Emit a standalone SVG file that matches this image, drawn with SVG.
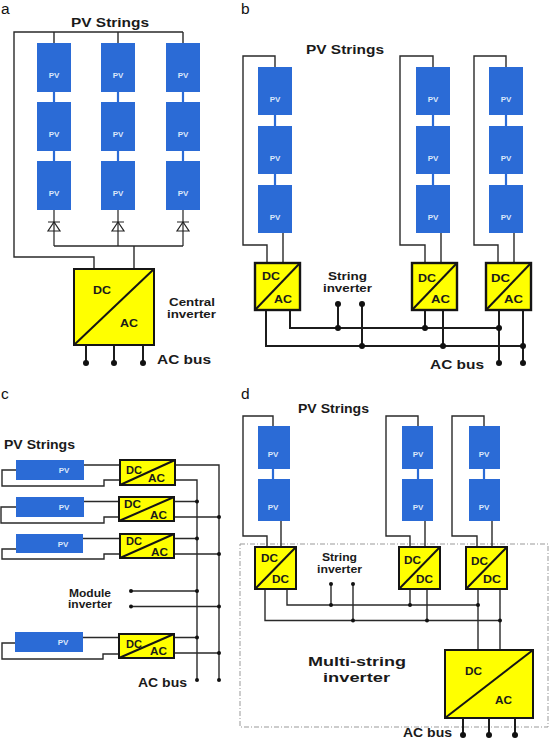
<svg xmlns="http://www.w3.org/2000/svg" width="549" height="740" viewBox="0 0 549 740">
<style>
text{font-family:"Liberation Sans",Arial,sans-serif}
.l{font-size:15.500px;fill:#111}
.t{font-weight:bold;font-size:12px;fill:#1a1a1a}
.s{font-weight:bold;font-size:10.500px;fill:#1a1a1a}
.m{font-weight:bold;font-size:13px;fill:#1a1a1a}
.d{font-weight:bold;font-size:11px;fill:#1a1a1a}
.p{font-weight:bold;font-size:8px;fill:#dce8fa;text-anchor:middle}
.pv{fill:#2b6bd6}
.inv{fill:#ffff00;stroke:#151515;stroke-width:2}
.inv2{fill:#ffff00;stroke:#151515;stroke-width:2.4}
.diag{stroke:#151515;stroke-width:2;fill:none}
.w{fill:none;stroke:#2a2a2a;stroke-width:1.4}
.h{fill:none;stroke:#1c1c1c;stroke-width:2}
.b{fill:none;stroke:#2b6bd6;stroke-width:2.2}
.e{fill:none;stroke:#222;stroke-width:1.2}
.box{fill:none;stroke:#999;stroke-width:1;stroke-dasharray:5 2 1 2}
</style>
<g id="panel-labels">
<text class="l" x="1" y="14.200">a</text>
<text class="l" x="241" y="14.200">b</text>
<text class="l" x="1" y="399">c</text>
<text class="l" x="241" y="399">d</text>
</g>
<rect class="box" x="240" y="544" width="308" height="183"/>
<g id="connectors">
<!-- a -->
<path class="w" d="M54 43V32M118 43V32M183 43V32M183 32H14V257H94V269"/>
<path class="b" d="M54 92V102M54 151V161M118 92V102M118 151V161M183 92V102M183 151V161"/>
<path class="e" d="M54 210V246M118 210V246M183 210V246"/>
<path class="e" d="M48 222H60M54 222L48 231H60Z M112 222H124M118 222L112 231H124Z M177 222H189M183 222L177 231H189Z"/>
<path class="w" d="M54 246H183M134 246V269"/>
<path class="h" d="M86 345V363M114 345V363M143 345V363"/>
<!-- b -->
<path class="w" d="M275 67V56H243V245H267V263M283 233V263"/>
<path class="w" d="M433 67V56H400V245H425V263M441 233V263"/>
<path class="w" d="M506 67V56H474V245H498V263M514 233V263"/>
<path class="b" d="M275 115V126M275 174V185M433 115V126M433 174V185M506 115V126M506 174V185"/>
<path class="h" d="M290 310V328H499M266 310V346H523M338 304V328M362 304V346M425 310V328M443 310V346M499 310V363M523 310V363"/>
<!-- c -->
<path class="w" d="M84 465H120M16 470H2V486H104V480H120"/>
<path class="w" d="M84 501.500H119M16 507H1V523H104V517H119"/>
<path class="w" d="M83 538.500H120M16 549H2V559H104V554H120"/>
<path class="w" d="M83 637.500H119M15 643H2V659H103V654H119"/>
<path class="w" d="M175 465H219V680M175 480H197V680M174 501.500H197M174 517H219M174 538.500H197M174 554H219M131 591H197M131 606.500H219M174 637.500H197M174 653H219"/>
<!-- d -->
<path class="w" d="M273 426V416H243V536H267V547M281 521V547"/>
<path class="w" d="M418 426V416H386V536H410V547M425 521V547"/>
<path class="w" d="M484 426V416H452V536H477V547M492 521V547"/>
<path class="b" d="M273 469V479M418 469V479M484 469V479"/>
<path class="w" d="M287 589V605H478M265 589V620.500H500M331 584V605M353 584V620.500M410 589V605M427 589V620.500M478 589V650M500 589V650"/>
<path class="h" d="M463 718V735M489 718V735M515 718V735"/>
</g>
<g id="junctions" fill="#111">
<circle cx="86" cy="363" r="3"/><circle cx="114" cy="363" r="3"/><circle cx="143" cy="363" r="3"/>
<circle cx="338" cy="304" r="3"/><circle cx="362" cy="304" r="3"/><circle cx="338" cy="328" r="3"/><circle cx="425" cy="328" r="3"/><circle cx="499" cy="328" r="3"/><circle cx="362" cy="346" r="3"/><circle cx="443" cy="346" r="3"/><circle cx="523" cy="346" r="3"/><circle cx="499" cy="363" r="3"/><circle cx="523" cy="363" r="3"/>
<circle cx="197" cy="501.500" r="2"/><circle cx="219" cy="517" r="2"/><circle cx="197" cy="538.500" r="2"/><circle cx="219" cy="554" r="2"/><circle cx="131" cy="591" r="2"/><circle cx="197" cy="591" r="2"/><circle cx="131" cy="606.500" r="2"/><circle cx="219" cy="606.500" r="2"/><circle cx="197" cy="637.500" r="2"/><circle cx="219" cy="653" r="2"/><circle cx="197" cy="680" r="2"/><circle cx="219" cy="680" r="2"/>
<circle cx="331" cy="584" r="2"/><circle cx="353" cy="584" r="2"/><circle cx="331" cy="605" r="2"/><circle cx="410" cy="605" r="2"/><circle cx="478" cy="605" r="2"/><circle cx="353" cy="620.500" r="2"/><circle cx="427" cy="620.500" r="2"/><circle cx="500" cy="620.500" r="2"/>
<circle cx="463" cy="735" r="3"/><circle cx="489" cy="735" r="3"/><circle cx="515" cy="735" r="3"/>
</g>
<g id="a-pv-1-1"><rect class="pv" x="37" y="43" width="34" height="49"/><text class="p" x="54" y="78">PV</text></g>
<g id="a-pv-1-2"><rect class="pv" x="37" y="102" width="34" height="49"/><text class="p" x="54" y="137">PV</text></g>
<g id="a-pv-1-3"><rect class="pv" x="37" y="161" width="34" height="49"/><text class="p" x="54" y="196">PV</text></g>
<g id="a-pv-2-1"><rect class="pv" x="101" y="43" width="34" height="49"/><text class="p" x="118" y="78">PV</text></g>
<g id="a-pv-2-2"><rect class="pv" x="101" y="102" width="34" height="49"/><text class="p" x="118" y="137">PV</text></g>
<g id="a-pv-2-3"><rect class="pv" x="101" y="161" width="34" height="49"/><text class="p" x="118" y="196">PV</text></g>
<g id="a-pv-3-1"><rect class="pv" x="166" y="43" width="34" height="49"/><text class="p" x="183" y="78">PV</text></g>
<g id="a-pv-3-2"><rect class="pv" x="166" y="102" width="34" height="49"/><text class="p" x="183" y="137">PV</text></g>
<g id="a-pv-3-3"><rect class="pv" x="166" y="161" width="34" height="49"/><text class="p" x="183" y="196">PV</text></g>
<g id="a-inverter"><rect class="inv" x="74" y="269" width="80" height="76"/><path class="diag" d="M74 345L154 269"/><text class="d" x="93" y="294" textLength="18" lengthAdjust="spacingAndGlyphs">DC</text><text class="d" x="120" y="327" textLength="18" lengthAdjust="spacingAndGlyphs">AC</text></g>
<g id="a-labels">
<text class="t" x="71" y="27" textLength="78" lengthAdjust="spacingAndGlyphs">PV Strings</text>
<text class="s" x="169" y="306" textLength="46" lengthAdjust="spacingAndGlyphs">Central</text>
<text class="s" x="167" y="318" textLength="49" lengthAdjust="spacingAndGlyphs">inverter</text>
<text class="t" x="157" y="364" textLength="54" lengthAdjust="spacingAndGlyphs">AC bus</text>
</g>
<g id="b-pv-1-1"><rect class="pv" x="258" y="67" width="34" height="48"/><text class="p" x="275" y="102">PV</text></g>
<g id="b-pv-1-2"><rect class="pv" x="258" y="126" width="34" height="48"/><text class="p" x="275" y="161">PV</text></g>
<g id="b-pv-1-3"><rect class="pv" x="258" y="185" width="34" height="48"/><text class="p" x="275" y="220">PV</text></g>
<g id="b-pv-2-1"><rect class="pv" x="416" y="67" width="34" height="48"/><text class="p" x="433" y="102">PV</text></g>
<g id="b-pv-2-2"><rect class="pv" x="416" y="126" width="34" height="48"/><text class="p" x="433" y="161">PV</text></g>
<g id="b-pv-2-3"><rect class="pv" x="416" y="185" width="34" height="48"/><text class="p" x="433" y="220">PV</text></g>
<g id="b-pv-3-1"><rect class="pv" x="489" y="67" width="34" height="48"/><text class="p" x="506" y="102">PV</text></g>
<g id="b-pv-3-2"><rect class="pv" x="489" y="126" width="34" height="48"/><text class="p" x="506" y="161">PV</text></g>
<g id="b-pv-3-3"><rect class="pv" x="489" y="185" width="34" height="48"/><text class="p" x="506" y="220">PV</text></g>
<g id="b-inverter-1"><rect class="inv2" x="255" y="263" width="45" height="47"/><path class="diag" d="M255 310L300 263"/><text class="d" x="262" y="280" textLength="18" lengthAdjust="spacingAndGlyphs">DC</text><text class="d" x="274" y="303" textLength="18" lengthAdjust="spacingAndGlyphs">AC</text></g>
<g id="b-inverter-2"><rect class="inv2" x="412" y="263" width="45" height="47"/><path class="diag" d="M412 310L457 263"/><text class="d" x="418" y="282" textLength="18" lengthAdjust="spacingAndGlyphs">DC</text><text class="d" x="431" y="303" textLength="19" lengthAdjust="spacingAndGlyphs">AC</text></g>
<g id="b-inverter-3"><rect class="inv2" x="486" y="263" width="45" height="47"/><path class="diag" d="M486 310L531 263"/><text class="d" x="491" y="282" textLength="19" lengthAdjust="spacingAndGlyphs">DC</text><text class="d" x="504" y="303" textLength="19" lengthAdjust="spacingAndGlyphs">AC</text></g>
<g id="b-labels">
<text class="t" x="306" y="54" textLength="78" lengthAdjust="spacingAndGlyphs">PV Strings</text>
<text class="s" x="328" y="280" textLength="39" lengthAdjust="spacingAndGlyphs">String</text>
<text class="s" x="323" y="292" textLength="49" lengthAdjust="spacingAndGlyphs">inverter</text>
<text class="t" x="430" y="369" textLength="54" lengthAdjust="spacingAndGlyphs">AC bus</text>
</g>
<g id="c-pv-1"><rect class="pv" x="16" y="460" width="68" height="20"/><text class="p" x="64" y="473">PV</text></g>
<g id="c-pv-2"><rect class="pv" x="16" y="497" width="68" height="20"/><text class="p" x="64" y="510">PV</text></g>
<g id="c-pv-3"><rect class="pv" x="16" y="534" width="67" height="19"/><text class="p" x="63" y="547">PV</text></g>
<g id="c-pv-4"><rect class="pv" x="15" y="632" width="68" height="20"/><text class="p" x="63" y="645">PV</text></g>
<g id="c-inverter-1"><rect class="inv" x="120" y="460" width="55" height="25"/><path class="diag" d="M120 485L175 460"/><text class="d" x="126" y="474" textLength="16" lengthAdjust="spacingAndGlyphs">DC</text><text class="d" x="148" y="482" textLength="17" lengthAdjust="spacingAndGlyphs">AC</text></g>
<g id="c-inverter-2"><rect class="inv" x="119" y="497" width="55" height="24"/><path class="diag" d="M119 521L174 497"/><text class="d" x="124" y="508" textLength="17" lengthAdjust="spacingAndGlyphs">DC</text><text class="d" x="150" y="519" textLength="17" lengthAdjust="spacingAndGlyphs">AC</text></g>
<g id="c-inverter-3"><rect class="inv" x="120" y="534" width="54" height="24"/><path class="diag" d="M120 558L174 534"/><text class="d" x="126" y="545" textLength="16" lengthAdjust="spacingAndGlyphs">DC</text><text class="d" x="151" y="556" textLength="17" lengthAdjust="spacingAndGlyphs">AC</text></g>
<g id="c-inverter-4"><rect class="inv" x="119" y="634" width="55" height="24"/><path class="diag" d="M119 658L174 634"/><text class="d" x="126" y="648" textLength="16" lengthAdjust="spacingAndGlyphs">DC</text><text class="d" x="150" y="655" textLength="17" lengthAdjust="spacingAndGlyphs">AC</text></g>
<g id="c-labels">
<text class="t" x="4" y="449" textLength="71" lengthAdjust="spacingAndGlyphs">PV Strings</text>
<text class="s" x="69" y="597" textLength="42" lengthAdjust="spacingAndGlyphs">Module</text>
<text class="s" x="68" y="608" textLength="44" lengthAdjust="spacingAndGlyphs">inverter</text>
<text class="t" x="138" y="687" textLength="49" lengthAdjust="spacingAndGlyphs">AC bus</text>
</g>
<g id="d-pv-1-1"><rect class="pv" x="258" y="426" width="32" height="43"/><text class="p" x="273" y="457">PV</text></g>
<g id="d-pv-1-2"><rect class="pv" x="258" y="479" width="32" height="42"/><text class="p" x="273" y="510">PV</text></g>
<g id="d-pv-2-1"><rect class="pv" x="402" y="426" width="31" height="43"/><text class="p" x="418" y="457">PV</text></g>
<g id="d-pv-2-2"><rect class="pv" x="402" y="479" width="31" height="42"/><text class="p" x="418" y="510">PV</text></g>
<g id="d-pv-3-1"><rect class="pv" x="469" y="426" width="31" height="43"/><text class="p" x="484" y="457">PV</text></g>
<g id="d-pv-3-2"><rect class="pv" x="469" y="479" width="31" height="42"/><text class="p" x="484" y="510">PV</text></g>
<g id="d-inverter-1"><rect class="inv" x="255" y="547" width="41" height="42"/><path class="diag" d="M255 589L296 547"/><text class="d" x="261" y="562" textLength="17" lengthAdjust="spacingAndGlyphs">DC</text><text class="d" x="272" y="583" textLength="17" lengthAdjust="spacingAndGlyphs">DC</text></g>
<g id="d-inverter-2"><rect class="inv" x="399" y="547" width="41" height="42"/><path class="diag" d="M399 589L440 547"/><text class="d" x="404" y="564" textLength="17" lengthAdjust="spacingAndGlyphs">DC</text><text class="d" x="416" y="583" textLength="17" lengthAdjust="spacingAndGlyphs">DC</text></g>
<g id="d-inverter-3"><rect class="inv" x="466" y="547" width="41" height="42"/><path class="diag" d="M466 589L507 547"/><text class="d" x="471" y="565" textLength="17" lengthAdjust="spacingAndGlyphs">DC</text><text class="d" x="483" y="583" textLength="18" lengthAdjust="spacingAndGlyphs">DC</text></g>
<g id="d-multi-string-inverter"><rect class="inv" x="445" y="650" width="88" height="68"/><path class="diag" d="M445 718L533 650"/><text class="d" x="465" y="675" textLength="17" lengthAdjust="spacingAndGlyphs">DC</text><text class="d" x="495" y="704" textLength="17" lengthAdjust="spacingAndGlyphs">AC</text></g>
<g id="d-labels">
<text class="t" x="298" y="413" textLength="71" lengthAdjust="spacingAndGlyphs">PV Strings</text>
<text class="s" x="322" y="561" textLength="35" lengthAdjust="spacingAndGlyphs">String</text>
<text class="s" x="317" y="573" textLength="45" lengthAdjust="spacingAndGlyphs">inverter</text>
<text class="m" x="308" y="666" textLength="98" lengthAdjust="spacingAndGlyphs">Multi-string</text>
<text class="m" x="323" y="682" textLength="67" lengthAdjust="spacingAndGlyphs">inverter</text>
<text class="t" x="403" y="737" textLength="49" lengthAdjust="spacingAndGlyphs">AC bus</text>
</g>
</svg>
